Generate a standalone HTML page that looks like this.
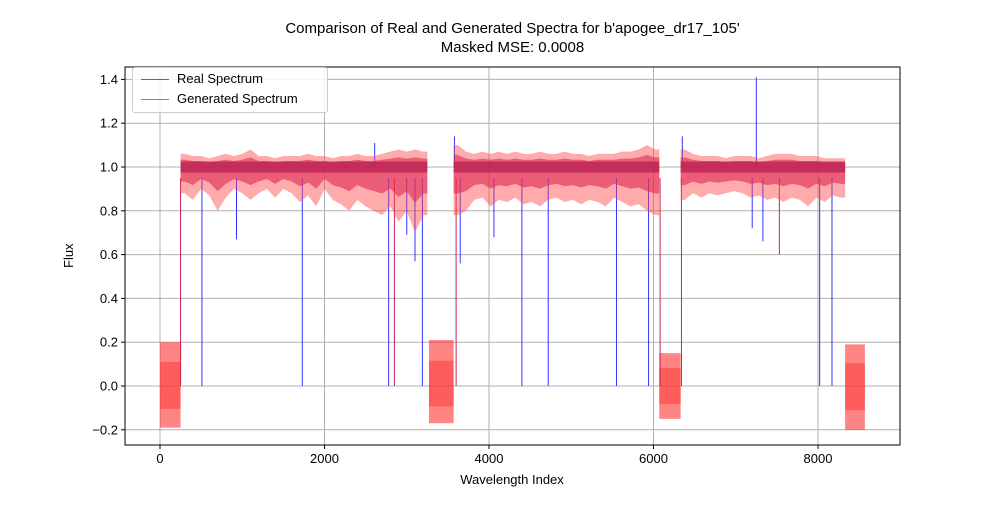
<!DOCTYPE html>
<html><head><meta charset="utf-8"><style>
body{margin:0;background:#fff;font-family:"Liberation Sans","DejaVu Sans",sans-serif}
</style></head><body>
<svg id="c" width="1000" height="500" xmlns="http://www.w3.org/2000/svg"></svg>
<script>
// data
const segStarts=[250,3570,6330];
const segStep=100;
const genHiA=[1.06,1.05,1.05,1.04,1.05,1.06,1.05,1.06,1.08,1.05,1.05,1.04,1.05,1.05,1.05,1.06,1.05,1.05,1.04,1.05,1.05,1.06,1.05,1.05,1.06,1.07,1.08,1.07,1.08,1.07];
const genLoA=[0.88,0.85,0.9,0.87,0.8,0.86,0.9,0.88,0.85,0.88,0.9,0.86,0.9,0.88,0.84,0.87,0.82,0.9,0.85,0.83,0.8,0.85,0.82,0.8,0.78,0.82,0.75,0.8,0.7,0.78];
const genHiB=[1.1,1.07,1.06,1.07,1.06,1.07,1.06,1.07,1.06,1.06,1.07,1.06,1.06,1.07,1.06,1.06,1.05,1.06,1.06,1.06,1.07,1.07,1.08,1.1,1.08];
const genLoB=[0.78,0.8,0.85,0.86,0.82,0.85,0.84,0.86,0.83,0.84,0.82,0.85,0.86,0.84,0.85,0.83,0.85,0.84,0.82,0.86,0.84,0.82,0.83,0.8,0.78];
const genHiC=[1.08,1.06,1.05,1.05,1.05,1.04,1.05,1.05,1.05,1.04,1.05,1.06,1.06,1.06,1.05,1.05,1.05,1.04,1.04,1.04];
const genLoC=[0.85,0.88,0.86,0.88,0.87,0.88,0.89,0.88,0.86,0.87,0.85,0.86,0.84,0.86,0.85,0.82,0.86,0.84,0.87,0.86];
const noiseStarts=[0,3270,6070,8330];
const noiseEnds=[250,3570,6330,8570];
const noiseHi=[0.2,0.21,0.15,0.19];
const noiseLo=[-0.19,-0.17,-0.15,-0.2];
const realDipX=[510,930,1730,2780,3000,3100,3190,3650,4060,4400,4720,5550,5940,7200,7330,8020,8170];
const realDipY=[0,0.67,0,0,0.69,0.57,0,0.56,0.68,0,0,0,0,0.72,0.66,0,0];
const genDipX=[250,2850,3600,6080,7530,6340];
const genDipY=[0,0,0,0,0.6,0];
const spikeX=[2610,3580,6350,7250];
const spikeY=[1.11,1.14,1.14,1.41];
const xTicks=[0,2000,4000,6000,8000];
const yTicks=[-0.2,0,0.2,0.4,0.6,0.8,1.0,1.2,1.4];

const NS="http://www.w3.org/2000/svg",svg=document.getElementById('c');
const L=125,R=900,T=67,B=445;
const X=v=>160+v*0.08225, Y=v=>386-v*219;
function el(t,a,p){const e=document.createElementNS(NS,t);for(const k in a)e.setAttribute(k,a[k]);(p||svg).appendChild(e);return e;}
function txt(s,x,y,a){const e=el('text',Object.assign({x:x,y:y,'font-size':13,fill:'#000'},a||{}));e.textContent=s;return e;}
const grid=el('g',{});
xTicks.forEach(v=>{el('line',{x1:X(v),x2:X(v),y1:T,y2:B,stroke:'#b0b0b0','stroke-width':1},grid);});
yTicks.forEach(v=>{el('line',{x1:L,x2:R,y1:Y(v),y2:Y(v),stroke:'#b0b0b0','stroke-width':1},grid);});
const plot=el('g',{});
noiseStarts.forEach((s,i)=>{const r=el('rect',{x:X(s),y:Y(noiseHi[i]),width:X(noiseEnds[i])-X(s),height:Y(noiseLo[i])-Y(noiseHi[i]),fill:'#ff3333','fill-opacity':0.6},plot);

const c=el('rect',{x:X(s),y:Y(noiseHi[i]*0.55),width:X(noiseEnds[i])-X(s),height:Y(noiseLo[i]*0.55)-Y(noiseHi[i]*0.55),fill:'#ff3333','fill-opacity':0.5},plot);
});
realDipX.forEach((x,i)=>{const l=el('line',{x1:X(x),x2:X(x),y1:Y(0.95),y2:Y(realDipY[i]),stroke:'#3333ff','stroke-width':1},plot);
});
genDipX.forEach((x,i)=>{const l=el('line',{x1:X(x),x2:X(x),y1:Y(0.95),y2:Y(genDipY[i]),stroke:'#cc2255','stroke-width':1},plot);
});
spikeX.forEach((x,i)=>{const l=el('line',{x1:X(x),x2:X(x),y1:Y(1.0),y2:Y(spikeY[i]),stroke:'#3333ff','stroke-width':1},plot);
});
[[genHiA,genLoA],[genHiB,genLoB],[genHiC,genLoC]].forEach((p,si)=>{
 const hi=p[0],lo=p[1],s=segStarts[si];let pts=[];
 const n=hi.length;
 pts.push(X(s)+','+Y(hi[0]));
 hi.forEach((v,i)=>{pts.push(X(s+(i+0.5)*segStep)+','+Y(v));});
 pts.push(X(s+n*segStep)+','+Y(hi[n-1]));
 pts.push(X(s+n*segStep)+','+Y(lo[n-1]));
 for(let i=n-1;i>=0;i--){pts.push(X(s+(i+0.5)*segStep)+','+Y(lo[i]));}
 pts.push(X(s)+','+Y(lo[0]));
 const o=el('polygon',{points:pts.join(' '),fill:'#ff4444','fill-opacity':0.45},plot);
 
 const m=el('polygon',{points:pts.map(q=>{const a=q.split(',');return a[0]+','+(Y(1.0)+(+a[1]-Y(1.0))*0.55);}).join(' '),fill:'#dd2a55','fill-opacity':0.6},plot);
 
 const c=el('rect',{x:X(s),y:Y(1.025),width:X(s+n*segStep)-X(s),height:Y(0.975)-Y(1.025),fill:'#b81d52','fill-opacity':0.75},plot);
 
});
el('rect',{x:L,y:T,width:R-L,height:B-T,fill:'none',stroke:'#000','stroke-width':1});
xTicks.forEach(v=>{el('line',{x1:X(v),x2:X(v),y1:B,y2:B+4,stroke:'#000'});const t=txt(String(v),X(v),B+18,{'text-anchor':'middle',fill:'#000'});});
yTicks.forEach(v=>{el('line',{x1:L-4,x2:L,y1:Y(v),y2:Y(v),stroke:'#000'});const t=txt(v.toFixed(1).replace('-','−'),L-7,Y(v)+4.5,{'text-anchor':'end'});});
</script>
<div style="position:absolute;left:0;top:0;width:1000px;height:500px;pointer-events:none">
<div style="position:absolute;left:0;width:1025px;top:19px;text-align:center;font-size:15px;line-height:19px">Comparison of Real and Generated Spectra for b'apogee_dr17_105'<br>Masked MSE: 0.0008</div>
<div style="position:absolute;left:412px;width:200px;top:472px;text-align:center;font-size:13px">Wavelength Index</div>
<div style="position:absolute;left:61px;top:268px;font-size:13px;transform:rotate(-90deg);transform-origin:left top;white-space:nowrap">Flux</div>
<div style="position:absolute;left:132px;top:67px;width:194px;height:44px;border:1px solid #ccc;border-radius:3px;background:rgba(255,255,255,0.85);font-size:13px">
<div style="position:absolute;left:8px;top:3px;white-space:nowrap"><span style="display:inline-block;width:28px;height:1px;background:#5555ff;vertical-align:middle;margin-right:8px"></span>Real Spectrum</div>
<div style="position:absolute;left:8px;top:23px;white-space:nowrap"><span style="display:inline-block;width:28px;height:1px;background:#ff5555;vertical-align:middle;margin-right:8px"></span>Generated Spectrum</div>
</div></div>
</body></html>
